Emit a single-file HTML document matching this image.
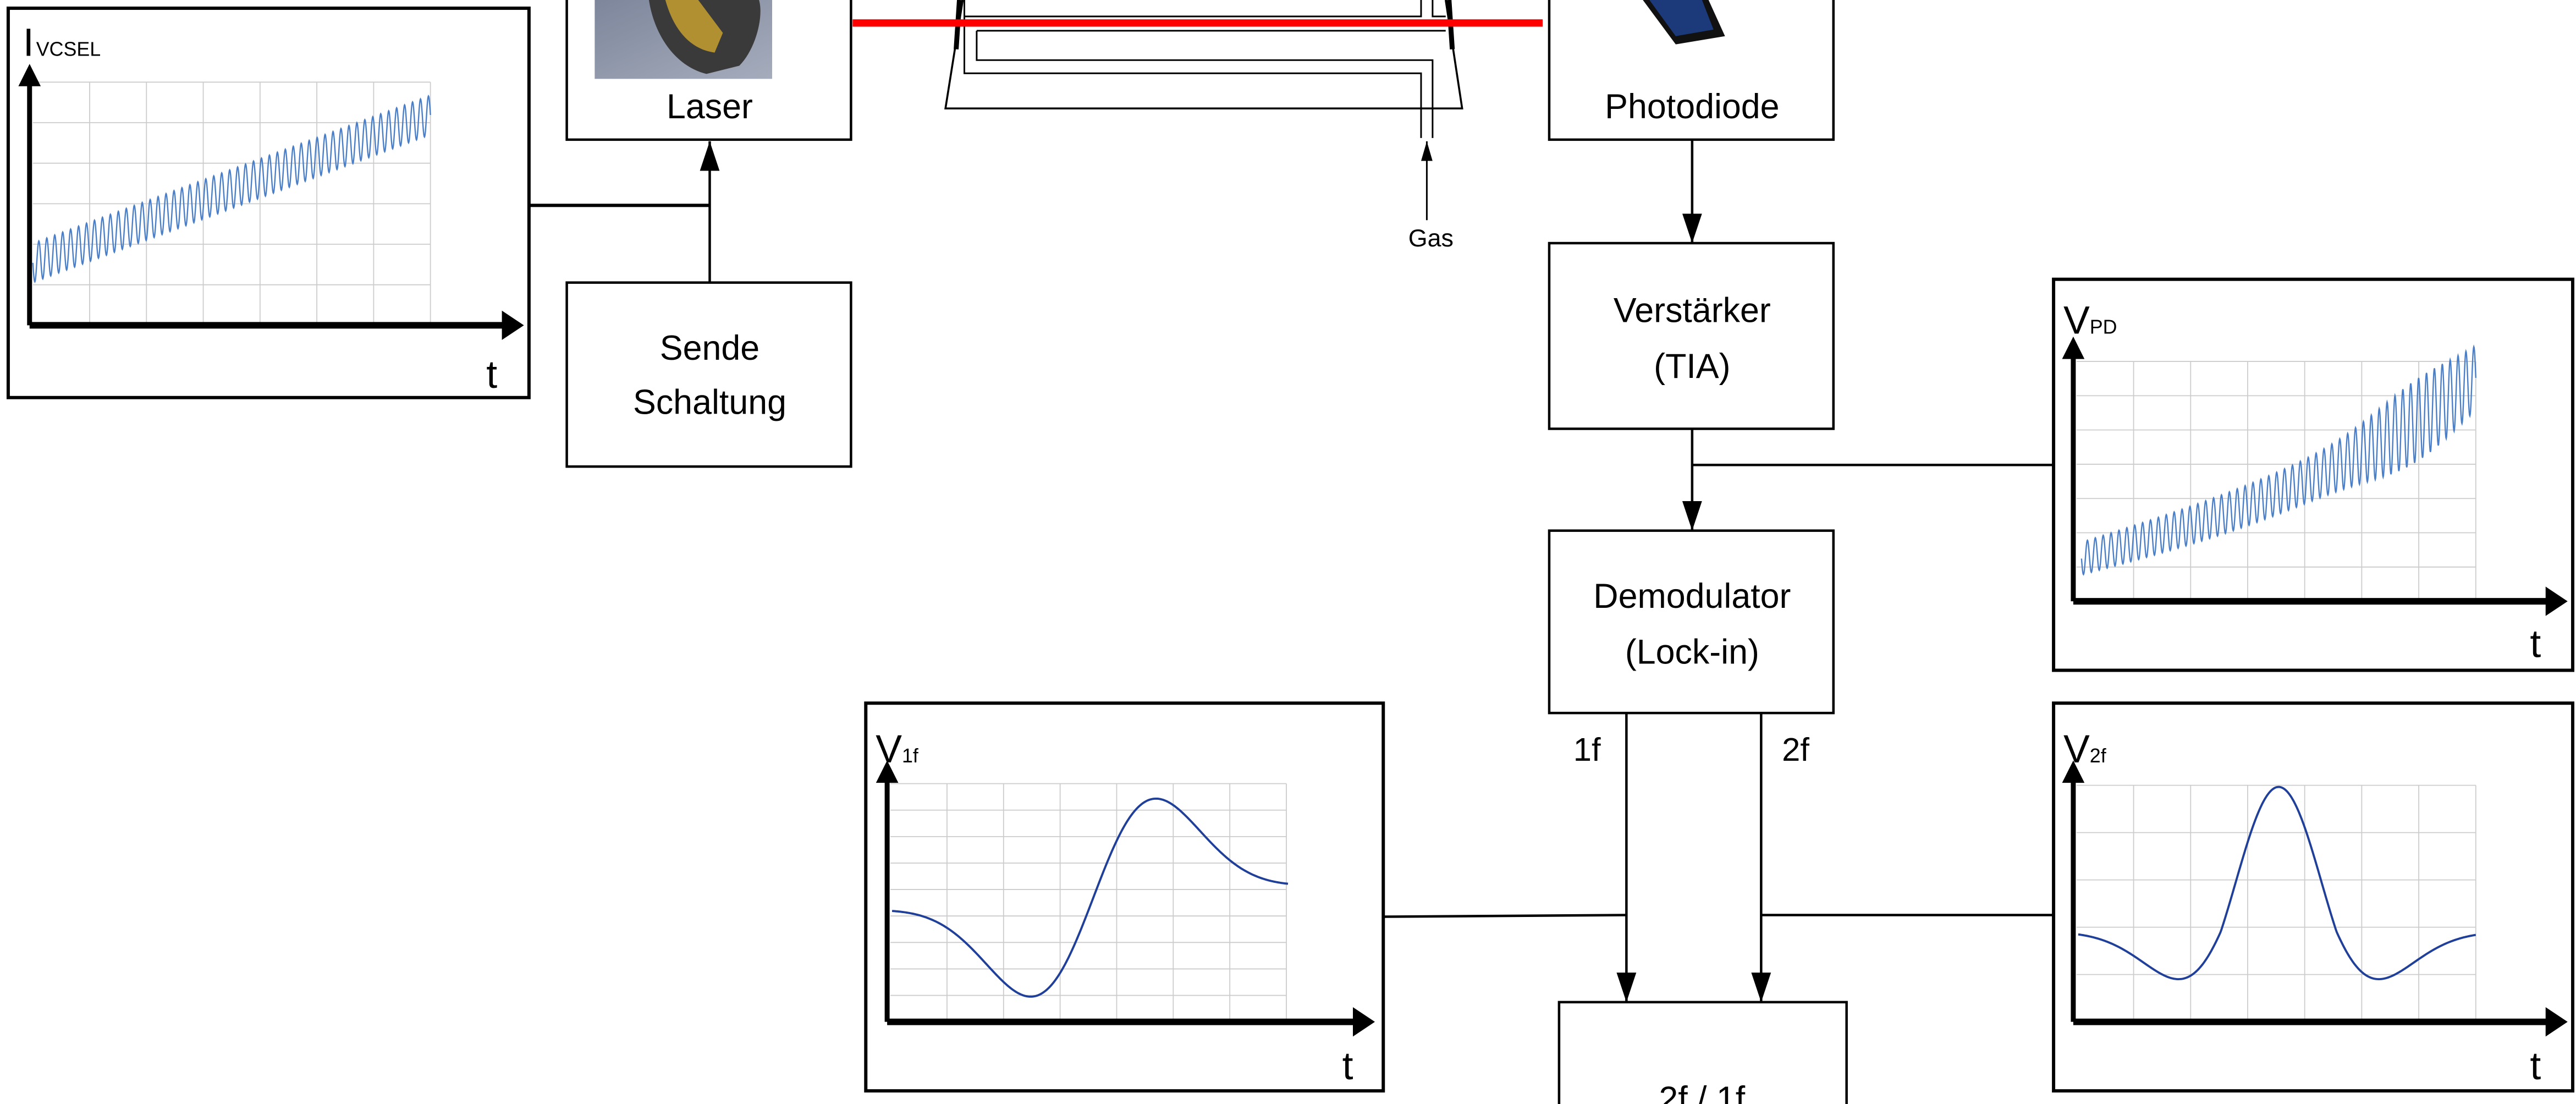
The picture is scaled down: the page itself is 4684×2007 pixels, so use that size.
<!DOCTYPE html>
<html><head><meta charset="utf-8"><style>
html,body{margin:0;padding:0;background:#fff;}
svg{display:block}
text{font-family:"Liberation Sans",sans-serif;fill:#000}
</style></head><body>
<svg id="s" width="4684" height="2007" viewBox="0 0 1568 672" preserveAspectRatio="none" xmlns="http://www.w3.org/2000/svg">
<defs>
<marker id="ah" markerWidth="18" markerHeight="14" refX="18" refY="7" orient="auto" markerUnits="userSpaceOnUse"><path d="M0,1 L18,7 L0,13 Z" fill="#000"/></marker>
<marker id="ah2" markerWidth="12" markerHeight="8" refX="12" refY="4" orient="auto" markerUnits="userSpaceOnUse"><path d="M0,0.5 L12,4 L0,7.5 Z" fill="#000"/></marker>
<linearGradient id="lg" x1="0" y1="0" x2="1" y2="1"><stop offset="0" stop-color="#7d869b"/><stop offset="1" stop-color="#a5acbc"/></linearGradient>
</defs>
<g fill="none" stroke="#000">
<rect x="5" y="5" width="317" height="237" stroke-width="2"/>
<g id="g1" stroke="#ccc" stroke-width="0.6"></g>
<line x1="18" y1="198" x2="18" y2="52" stroke-width="3"/>
<path d="M12,52 L18,40 L24,52 Z" fill="#000"/>
<line x1="18" y1="198" x2="308" y2="198" stroke-width="4"/>
<path d="M306,190 L318,198 L306,206 Z" fill="#000"/>
<path id="p1" stroke="#4a7fc8" stroke-width="0.8"/>
<rect x="345" y="-5" width="173" height="90" stroke-width="1.5"/>
<line x1="322" y1="125" x2="432" y2="125" stroke-width="2"/>
<line x1="432" y1="172" x2="432" y2="86" stroke-width="1.5" marker-end="url(#ah)"/>
<rect x="345" y="172" width="173" height="112" stroke-width="1.5"/>
<path d="M586,0 L575.5,66 L890,66 L880,0" stroke-width="1.2"/>
<path d="M584,0 L582,30" stroke-width="3"/>
<path d="M882,0 L884,30" stroke-width="3"/>
<path d="M587,0 L587,44.6 L865,44.6 L865,84" stroke-width="1"/>
<path d="M587,10 L865,10 L865,0" stroke-width="1"/>
<path d="M872,0 L872,10 L880,10" stroke-width="1"/>
<path d="M594.5,18.7 L880,18.7" stroke-width="1"/>
<path d="M594.5,18.7 L594.5,36.6 L872,36.6 L872,84" stroke-width="1"/>
<line x1="519" y1="14" x2="939" y2="14" stroke="#f00" stroke-width="4.5"/>
<line x1="868.5" y1="134" x2="868.5" y2="86" stroke-width="1" marker-end="url(#ah2)"/>
<rect x="943" y="-5" width="173" height="90" stroke-width="1.5"/>
<line x1="1030" y1="85" x2="1030" y2="148" stroke-width="1.5" marker-end="url(#ah)"/>
<rect x="943" y="148" width="173" height="113" stroke-width="1.5"/>
<line x1="1030" y1="261" x2="1030" y2="323" stroke-width="1.5" marker-end="url(#ah)"/>
<line x1="1030" y1="283" x2="1250" y2="283" stroke-width="1.5"/>
<rect x="943" y="323" width="173" height="111" stroke-width="1.5"/>
<line x1="990" y1="434" x2="990" y2="610" stroke-width="1.5" marker-end="url(#ah)"/>
<line x1="1072" y1="434" x2="1072" y2="610" stroke-width="1.5" marker-end="url(#ah)"/>
<line x1="842" y1="558" x2="990" y2="557" stroke-width="1.5"/>
<line x1="1072" y1="557" x2="1250" y2="557" stroke-width="1.5"/>
<rect x="949" y="610" width="175" height="70" stroke-width="1.5"/>
<rect x="1250" y="170" width="316" height="238" stroke-width="2"/>
<g id="g2" stroke="#ccc" stroke-width="0.6"></g>
<line x1="1262" y1="366" x2="1262" y2="218" stroke-width="3"/>
<path d="M1256,218 L1262,206 L1268,218 Z" fill="#000"/>
<line x1="1262" y1="366" x2="1552" y2="366" stroke-width="4"/>
<path d="M1550,358 L1562,366 L1550,374 Z" fill="#000"/>
<path id="p2" stroke="#4a7fc8" stroke-width="0.8"/>
<rect x="527" y="428" width="315" height="236" stroke-width="2"/>
<g id="g3" stroke="#ccc" stroke-width="0.6"></g>
<line x1="540" y1="622" x2="540" y2="476" stroke-width="3"/>
<path d="M534,476 L540,464 L546,476 Z" fill="#000"/>
<line x1="540" y1="622" x2="826" y2="622" stroke-width="4"/>
<path d="M824,614 L836,622 L824,630 Z" fill="#000"/>
<path id="p3" stroke="#1f3f99" stroke-width="1.3"/>
<rect x="1250" y="428" width="316" height="236" stroke-width="2"/>
<g id="g4" stroke="#ccc" stroke-width="0.6"></g>
<line x1="1262" y1="622" x2="1262" y2="476" stroke-width="3"/>
<path d="M1256,476 L1262,464 L1268,476 Z" fill="#000"/>
<line x1="1262" y1="622" x2="1552" y2="622" stroke-width="4"/>
<path d="M1550,614 L1562,622 L1550,630 Z" fill="#000"/>
<path id="p4" stroke="#1f3f99" stroke-width="1.3"/>
</g>
<rect x="362" y="0" width="108" height="48" fill="url(#lg)"/>
<path d="M395,0 C398,20 410,40 430,45 L450,40 C460,30 465,10 462,0 Z" fill="#3a3a3a"/>
<path d="M405,0 C410,18 420,30 435,32 L440,20 L425,0 Z" fill="#b09030"/>
<path d="M1000,0 L1040,0 L1050,22 L1020,27 Z" fill="#111"/>
<path d="M1004,0 L1036,0 L1043,18 L1020,22 Z" fill="#1c3a7a"/>
<text x="14" y="34" font-size="24">I</text><text x="22" y="34" font-size="12">VCSEL</text>
<text x="296" y="236" font-size="24">t</text>
<text x="432" y="72" font-size="21" text-anchor="middle">Laser</text>
<text x="432" y="219" font-size="21" text-anchor="middle">Sende</text>
<text x="432" y="252" font-size="21" text-anchor="middle">Schaltung</text>
<text x="871" y="150" font-size="15" text-anchor="middle">Gas</text>
<text x="1030" y="72" font-size="21" text-anchor="middle">Photodiode</text>
<text x="1030" y="196" font-size="21" text-anchor="middle">Verstärker</text>
<text x="1030" y="230" font-size="21" text-anchor="middle">(TIA)</text>
<text x="1030" y="370" font-size="21" text-anchor="middle">Demodulator</text>
<text x="1030" y="404" font-size="21" text-anchor="middle">(Lock-in)</text>
<text x="966" y="463" font-size="20" text-anchor="middle">1f</text>
<text x="1093" y="463" font-size="20" text-anchor="middle">2f</text>
<text x="1036" y="676" font-size="21" text-anchor="middle">2f / 1f</text>
<text x="1256" y="203" font-size="24">V</text><text x="1272" y="203" font-size="12">PD</text>
<text x="1540" y="400" font-size="24">t</text>
<text x="533" y="464" font-size="24">V</text><text x="549" y="464" font-size="12">1f</text>
<text x="817" y="657" font-size="24">t</text>
<text x="1256" y="464" font-size="24">V</text><text x="1272" y="464" font-size="12">2f</text>
<text x="1540" y="657" font-size="24">t</text>
</svg>
<script>
function grid(id,x0,x1,y0,y1,nx,ny){var g=document.getElementById(id),s="";
for(var i=1;i<=nx;i++){var x=x0+(x1-x0)*i/nx;s+='<line x1="'+x+'" y1="'+y0+'" x2="'+x+'" y2="'+y1+'"/>';}
for(var j=0;j<ny;j++){var y=y0+(y1-y0)*j/ny;s+='<line x1="'+x0+'" y1="'+y+'" x2="'+x1+'" y2="'+y+'"/>';}
g.innerHTML=s;}
grid("g1",20,262,50,198,7,6);
grid("g2",1264,1507,220,366,7,7);
grid("g3",542,783,477,622,7,9);
grid("g4",1264,1507,478,622,7,5);
var d="";for(var i=0;i<=1200;i++){var t=i/1200;var x=20+242*t;var y=160-90*t+12*Math.sin(t*2*Math.PI*50);d+=(i?"L":"M")+x.toFixed(2)+","+y.toFixed(2);}
document.getElementById("p1").setAttribute("d",d);
d="";for(var i=0;i<=1200;i++){var t=i/1200;var x=1267+240*t;var base=340-70*t-40*Math.pow(t,3);var a=10+6*t+10*Math.exp(-Math.pow((t-0.85)/0.15,2));var y=base+a*Math.sin(t*2*Math.PI*50);d+=(i?"L":"M")+x.toFixed(2)+","+y.toFixed(2);}
document.getElementById("p2").setAttribute("d",d);
d="";for(var i=0;i<=400;i++){var x=543+(784-543)*i/400;var u=(x-665.5)/37.5;var base=553-13*(x-543)/241;var f=u*Math.exp(-u*u/2);var y=base-96*f;d+=(i?"L":"M")+x.toFixed(2)+","+y.toFixed(2);}
document.getElementById("p3").setAttribute("d",d);
d="";for(var i=0;i<=400;i++){var x=1265+(1507-1265)*i/400;var u=(x-1387)/35.2;var f=(1-u*u)*Math.exp(-u*u/2);var y=567-(f>0?88*f:65*f);d+=(i?"L":"M")+x.toFixed(2)+","+y.toFixed(2);}
document.getElementById("p4").setAttribute("d",d);
</script>
</body></html>
